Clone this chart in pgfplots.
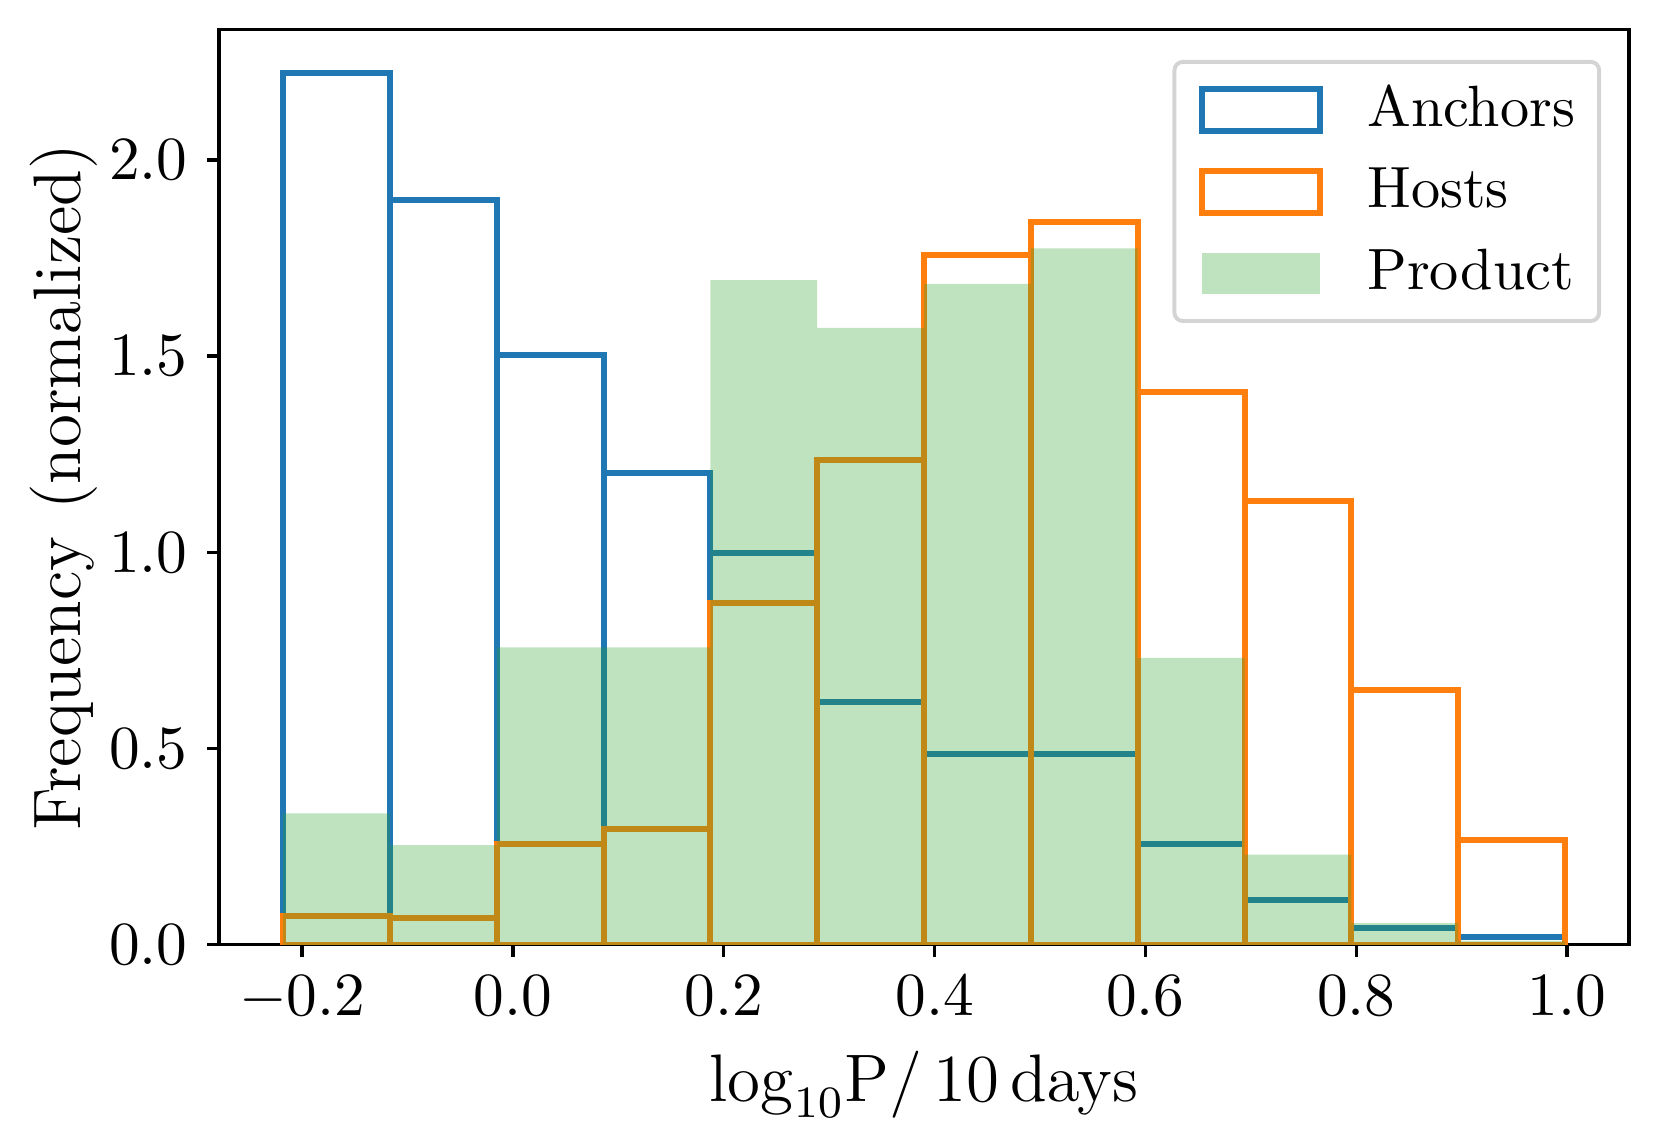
\documentclass[border=0pt]{standalone}
\usepackage{pgfplots}
\pgfplotsset{compat=1.18}
\definecolor{tabblue}{HTML}{1F77B4}
\definecolor{taborange}{HTML}{FF7F0E}
\definecolor{tabgreen}{HTML}{2CA02C}
\begin{document}
\begin{tikzpicture}
\begin{axis}[
  scale only axis, width=251.8pt, height=163.4pt,
  xmin=-0.2788, xmax=1.0588, ymin=0, ymax=2.332,
  xtick={-0.2,0,0.2,0.4,0.6,0.8,1.0},
  ytick={0,0.5,1,1.5,2},
  xticklabel style={/pgf/number format/.cd, fixed, fixed zerofill, precision=1},
  yticklabel style={/pgf/number format/.cd, fixed, fixed zerofill, precision=1},
  tick label style={font=\fontsize{10.5}{12.5}\selectfont},
  tick align=outside, major tick length=2.1pt,
  xtick pos=bottom, ytick pos=left,
  axis line style={line width=0.6pt},
  every tick/.style={black, line width=0.6pt},
  xlabel={$\mathrm{log}_{10}\mathrm{P}/\,10\,\mathrm{days}$},
  ylabel={Frequency\hspace{0.4em}(normalized)},
  label style={font=\fontsize{12}{14}\selectfont},
  xlabel shift=-1.5pt, ylabel shift=-4.8pt,
  legend cell align=left,
  legend style={at={(1,1)}, anchor=north east, xshift=-5pt, yshift=-5.4pt,
    draw=black!17, line width=0.7pt, rounded corners=1.5pt, fill=white,
    font=\fontsize{10.4}{12.5}\selectfont,
    inner xsep=4.3pt, inner ysep=4.1pt, row sep=5.9pt,
    nodes={inner sep=0pt, text depth=0.15em},
    /tikz/every odd column/.append style={column sep=8pt}},
]
\addplot[ybar interval, fill=none, draw=tabblue, line width=1.07pt,
  legend image code/.code={\draw[tabblue, line width=1.07pt, sharp corners] (0pt,-3.7pt) rectangle (21.1pt,3.7pt);}]
  coordinates {(-0.2180,2.221) (-0.1167,1.898) (-0.0153,1.503) (0.0860,1.203)
  (0.1873,0.999) (0.2887,0.618) (0.3900,0.486) (0.4913,0.486) (0.5927,0.258)
  (0.6940,0.114) (0.7953,0.043) (0.8967,0.019) (0.9980,0.019)};
\addlegendentry{Anchors}
\addplot[ybar interval, fill=none, draw=taborange, line width=1.07pt,
  legend image code/.code={\draw[taborange, line width=1.07pt, sharp corners] (0pt,-3.7pt) rectangle (21.1pt,3.7pt);}]
  coordinates {(-0.2180,0.074) (-0.1167,0.068) (-0.0153,0.256) (0.0860,0.294)
  (0.1873,0.871) (0.2887,1.235) (0.3900,1.758) (0.4913,1.843) (0.5927,1.409)
  (0.6940,1.131) (0.7953,0.648) (0.8967,0.268) (0.9980,0.268)};
\addlegendentry{Hosts}
\addplot[ybar interval, draw=none, fill=tabgreen, fill opacity=0.3,
  legend image code/.code={\fill[tabgreen, fill opacity=0.3, sharp corners] (0pt,-3.7pt) rectangle (21.1pt,3.7pt);}]
  coordinates {(-0.2180,0.335) (-0.1167,0.254) (-0.0153,0.758) (0.0860,0.758)
  (0.1873,1.694) (0.2887,1.572) (0.3900,1.684) (0.4913,1.775) (0.5927,0.731)
  (0.6940,0.230) (0.7953,0.055) (0.8967,0.010) (0.9980,0.010)};
\addlegendentry{Product}
\end{axis}
\path (current axis.south west) ++(-39.1pt,-35.35pt);
\path (current axis.north east) ++(5.7pt,5.3pt);
\end{tikzpicture}
\end{document}
